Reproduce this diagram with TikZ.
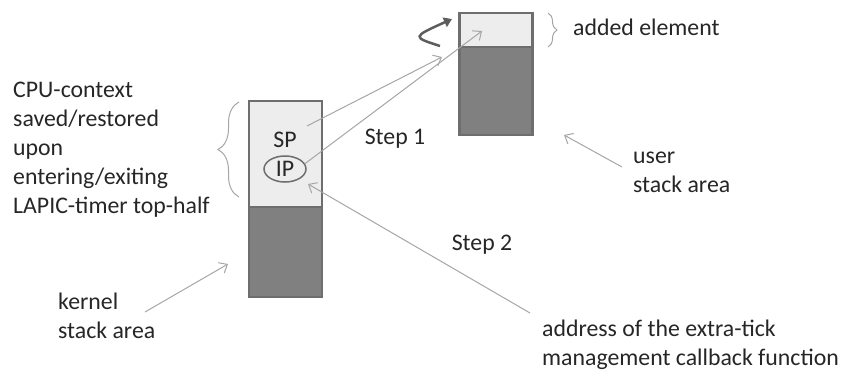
\documentclass[tikz,border=0pt]{standalone}
\usepackage{fontspec}
\setmainfont{Carlito}
\usetikzlibrary{arrows.meta,decorations.pathreplacing,shapes.geometric}
\definecolor{boxline}{HTML}{6E6E6E}
\definecolor{lightcell}{HTML}{EDEDED}
\definecolor{darkcell}{HTML}{808080}
\definecolor{pointer}{HTML}{A6A6A6}
\definecolor{txt}{HTML}{262626}
\tikzset{
  cell/.style={draw=boxline, line width=2.5pt, rectangle, minimum width=73pt, inner sep=0pt},
  lcell/.style={cell, fill=lightcell},
  dcell/.style={cell, fill=darkcell},
  lbl/.style={text=txt, inner sep=0pt, font=\fontsize{23.8}{29}\selectfont, align=left},
  ptr/.style={draw=pointer, line width=1pt, -{Straight Barb[length=7pt,width=12pt]}},
  brc/.style={draw=pointer, line width=1pt, decorate, decoration={brace, amplitude=#1}}
}

\begin{document}
\begin{tikzpicture}[x=1pt,y=-1pt]
\useasboundingbox (0,0) rectangle (844,372);
% kernel stack
\node[lcell, minimum height=106pt] (kt) at (285.5,154){};
\node[dcell, minimum height=90pt] (kb) at (285.5,252){};
\node[lbl] (sp) at (285,140){SP};
\node[lbl, draw=boxline, line width=1.5pt, ellipse, minimum width=42pt, minimum height=26pt] (ip) at (285,169){IP};
% user stack
\node[lcell, minimum height=34pt] (ut) at (496,30){};
\node[dcell, minimum height=88pt] (ub) at (496,91){};
\coordinate (cv0) at (440,46);
\coordinate (cv1) at (452,19);
\draw[draw=boxline!85!black, line width=2.5pt, -{Triangle[length=8pt,width=10pt]}] (cv0) .. controls (412,37) .. (cv1);

% step 1
\coordinate (spfrom) at (307,126);
\coordinate (t1) at (442,57);
\coordinate (t2) at (482,31);
\draw[ptr] (spfrom) -- (t1);
\draw[ptr] (ip.15) -- (t2);
\node[lbl] (s1) at (395,139){Step 1};

% step 2
\coordinate (addrfrom) at (530,313);
\coordinate (ipin) at (308,184);
\draw[ptr] (addrfrom) -- (ipin);
\node[lbl] (s2) at (482,245){Step 2};

% labels
\draw[brc=21pt] (239,197) -- (239,102);
\node[lbl, anchor=west] (ctx) at (13,150){CPU-context\\saved/restored\\upon\\entering/exiting\\LAPIC-timer top-half};
\draw[brc=9pt] (548,13) -- (548,47);
\node[lbl, anchor=west] (added) at (573,27){added element};
\coordinate (ufrom) at (622,167);
\coordinate (uto) at (564,135);
\draw[ptr] (ufrom) -- (uto);
\node[lbl, anchor=west] (user) at (633,172){user\\stack area};
\coordinate (kfrom) at (145,312);
\coordinate (kto) at (228,264);
\draw[ptr] (kfrom) -- (kto);
\node[lbl, anchor=west] (kern) at (58,316){kernel\\stack area};
\node[lbl, anchor=west] (addr) at (542,345){address of the extra-tick\\management callback function};

\end{tikzpicture}
\end{document}
